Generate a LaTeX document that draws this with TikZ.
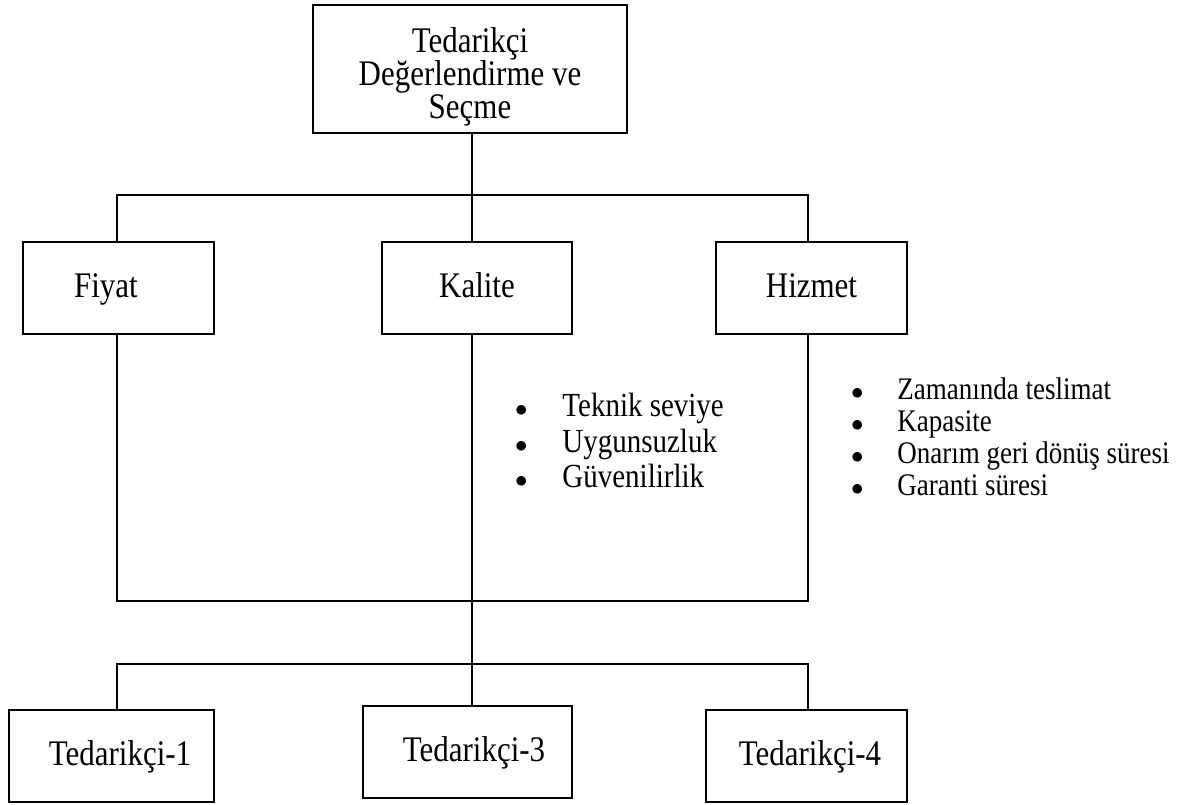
\documentclass[tikz,border=0pt]{standalone}
\usepackage{fontspec}
\setmainfont[FakeStretch=0.86]{Liberation Serif}
\usetikzlibrary{positioning}

\newcommand{\blt}{{\fontsize{44}{20}\selectfont$\bullet$}}

\tikzset{
  box/.style={draw,line width=2pt,inner sep=0pt,minimum height=92,
    font=\fontsize{36}{32.5}\selectfont},
  onebox/.style={box,text height=27,text depth=9},
  link/.style={line width=2pt},
  itemlist/.style={inner sep=0pt,anchor=west}
}

\begin{document}
\begin{tikzpicture}[x=1pt,y=-1pt,line width=2pt]
  \useasboundingbox (0,0) rectangle (1180,805);
  % main boxes
  \node[box,minimum width=314,minimum height=128,align=center,text height=106] (top) at (470,69)
    {Tedarikçi\\Değerlendirme ve\\Seçme};
  \node[onebox,minimum width=191] (fiyat) at (118.5,288) {\hspace*{-25pt}Fiyat};
  \node[onebox,minimum width=190] (kalite) at (477,288) {Kalite};
  \node[onebox,minimum width=191] (hizmet) at (811.5,288) {Hizmet};
  \node[onebox,minimum width=205] (ted1) at (111.5,756) {\hspace*{17pt}Tedarikçi-1};
  \node[onebox,minimum width=209] (ted3) at (467.5,752) {\hspace*{13pt}Tedarikçi-3};
  \node[onebox,minimum width=201] (ted4) at (806.5,756) {\hspace*{7pt}Tedarikçi-4};
  % junctions
  \coordinate (xF) at (117,0);
  \coordinate (xK) at (472,0);
  \coordinate (xH) at (808,0);
  \coordinate (bar1) at (472,195);
  \coordinate (low1) at (472,601);
  \coordinate (low2) at (472,664);
  % connectors
  \draw[link] (top.south -| xK) -- (kalite.north -| xK);
  \draw[link] (fiyat.north -| xF) -- (xF |- bar1) -- (xH |- bar1) -- (hizmet.north -| xH);
  \draw[link] (fiyat.south -| xF) -- (xF |- low1) -- (xH |- low1) -- (hizmet.south -| xH);
  \draw[link] (kalite.south -| xK) -- (ted3.north -| xK);
  \draw[link] (ted1.north -| xF) -- (xF |- low2) -- (xH |- low2) -- (ted4.north -| xH);
  % criteria lists
  \node[itemlist,font=\fontsize{33.7}{35.5}\selectfont] (kalitelist) at (514,445)
    {\begin{tabular}{@{}l@{\hspace{35pt}}l@{}}
      \blt & Teknik seviye\\
      \blt & Uygunsuzluk\\
      \blt & Güvenilirlik
    \end{tabular}};
  \node[itemlist,font=\fontsize{31.4}{32.2}\selectfont] (hizmetlist) at (850,441)
    {\begin{tabular}{@{}l@{\hspace{34pt}}l@{}}
      \blt & Zamanında teslimat\\
      \blt & Kapasite\\
      \blt & Onarım geri dönüş süresi\\
      \blt & Garanti süresi
    \end{tabular}};
\end{tikzpicture}
\end{document}
